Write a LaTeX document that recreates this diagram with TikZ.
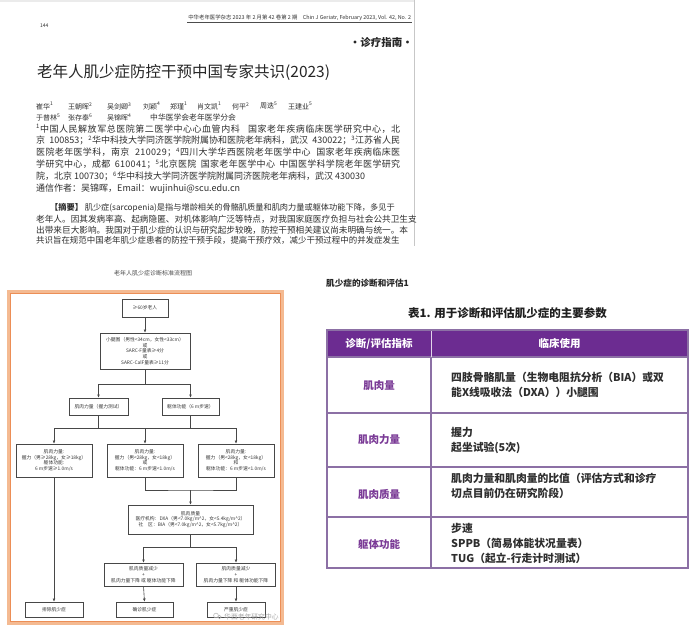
\documentclass[tikz,border=0pt]{standalone}
\usepackage{fontspec}
\setmainfont{Liberation Serif}
\newfontfamily\cjk{Noto Sans CJK SC}
\usetikzlibrary{arrows.meta}
\newcommand\fsz[2]{\fontsize{#1}{#2}\selectfont}
\newcommand\jline[2]{{\addfontfeature{LetterSpace=#1}\makebox[364pt][s]{#2}}}
\definecolor{tpurple}{RGB}{108,44,145}
\definecolor{tlabel}{RGB}{122,58,150}
\definecolor{tgrid}{RGB}{140,112,165}
\definecolor{oframe}{RGB}{244,186,146}
\definecolor{oline}{RGB}{236,142,86}
\tikzset{
  pg/.style={anchor=west, inner sep=0, text=black!82, font=\cjk\fsz{9}{10}},
  ab/.style={anchor=west, inner sep=0, text=black!82, font=\cjk\fsz{8.65}{10}},
  au/.style={anchor=west, inner sep=0, text=black!82, font=\cjk\fsz{7}{8}},
  fbox/.style={draw=black!72, line width=0.6pt, inner sep=0, align=center, text=black!78, font=\cjk\fsz{4.8}{5.8}},
  arr/.style={-{Latex[length=3.2pt,width=2.8pt]}, line width=0.6pt, draw=black!72},
  ln/.style={line width=0.6pt, draw=black!72},
  hdrtxt/.style={inner sep=0, text=white, font=\cjk\bfseries\fsz{10.5}{12}},
  lbl/.style={inner sep=0, text=tlabel, font=\cjk\bfseries\fsz{10.5}{12}},
  body/.style={anchor=west, align=left, inner sep=0, text=black!82, font=\cjk\bfseries\fsz{10.8}{15}},
}
\begin{document}
\begin{tikzpicture}[x=1pt,y=-1pt]
\useasboundingbox[fill=white] (0,0) rectangle (697,633);

% ---------------- journal page ----------------
\fill[black!8] (0,0) rectangle (415,2);
\draw[black!22, line width=0.8pt] (414.5,0) -- (414.5,246);
\node[au, font=\cjk\fsz{5}{6}] (pgno) at (40,26) {144};
\node[anchor=east, inner sep=0.8pt, text=black!80, font=\cjk\fsz{5.4}{6}] (hdr) at (412,18) {中华老年医学杂志 2023 年 2 月第 42 卷第 2 期\quad Chin J Geriatr, February 2023, Vol. 42, No. 2};
\draw[black!70, line width=0.4pt] (hdr.south west) -- (hdr.south east);
\node[anchor=east, inner sep=0, text=black!85, font=\cjk\bfseries\fsz{10.5}{12}] (sec) at (413,42) {·诊疗指南·};
\node[anchor=west, inner sep=0, text=black!85, font=\cjk\fsz{15.5}{17}] (ttl) at (37,72) {老年人肌少症防控干预中国专家共识(2023)};

\node[au] (a1) at (36,106) {崔华\textsuperscript{1}};
\node[au] (a2) at (68,106) {王朝晖\textsuperscript{2}};
\node[au] (a3) at (107,106) {吴剑卿\textsuperscript{3}};
\node[au] (a4) at (143,106) {刘颖\textsuperscript{4}};
\node[au] (a5) at (170,106) {郑瑾\textsuperscript{1}};
\node[au] (a6) at (197,106) {肖文凯\textsuperscript{1}};
\node[au] (a7) at (232,106) {何平\textsuperscript{2}};
\node[au] (a8) at (260,106) {周迭\textsuperscript{5}};
\node[au] (a9) at (288,106) {王建业\textsuperscript{5}};
\node[au] (b1) at (36,117.5) {于普林\textsuperscript{5}};
\node[au] (b2) at (68,117.5) {张存泰\textsuperscript{6}};
\node[au] (b3) at (107,117.5) {吴锦晖\textsuperscript{4}};
\node[au, font=\cjk\fsz{7.8}{8}] (b4) at (150,117.5) {中华医学会老年医学分会};

\node[pg] (f1) at (36,128.5) {\jline{6}{\textsuperscript{1}中国人民解放军总医院第二医学中心心血管内科 国家老年疾病临床医学研究中心，北}};
\node[pg] (f2) at (36,140.5) {\jline{0}{京 100853；\textsuperscript{2}华中科技大学同济医学院附属协和医院老年病科，武汉 430022；\textsuperscript{3}江苏省人民}};
\node[pg] (f3) at (36,152.5) {\jline{4}{医院老年医学科，南京 210029；\textsuperscript{4}四川大学华西医院老年医学中心 国家老年疾病临床医}};
\node[pg] (f4) at (36,164.5) {\jline{3.5}{学研究中心，成都 610041；\textsuperscript{5}北京医院 国家老年医学中心 中国医学科学院老年医学研究}};
\node[pg] (f5) at (36,176.5) {院，北京 100730；\textsuperscript{6}华中科技大学同济医学院附属同济医院老年病科，武汉 430030};
\node[pg] (f6) at (36,188.5) {通信作者：吴锦晖，Email：wujinhui@scu.edu.cn};

\node[ab, font=\cjk\fsz{8.2}{10}] (s1) at (50,208) {\textbf{【摘要】}\ 肌少症(sarcopenia)是指与增龄相关的骨骼肌质量和肌肉力量或躯体功能下降，多见于};
\node[ab] (s2) at (36,219) {老年人。因其发病率高、起病隐匿、对机体影响广泛等特点，对我国家庭医疗负担与社会公共卫生支};
\node[ab] (s3) at (36,230) {出带来巨大影响。我国对于肌少症的认识与研究起步较晚，防控干预相关建议尚未明确与统一。本};
\begin{scope}
\clip (0,235) rectangle (414,244.5);
\node[ab, font=\cjk\fsz{8.45}{10}] (s4) at (36,240.5) {共识旨在规范中国老年肌少症患者的防控干预手段，提高干预疗效，减少干预过程中的并发症发生};
\end{scope}

% ---------------- flowchart ----------------
\node[inner sep=0, text=black!70, font=\cjk\fsz{6}{7}] (fct) at (153,273) {老年人肌少症诊断标准流程图};
\draw[oframe, line width=3.5pt] (8.5,291.5) rectangle (282.5,623);
\draw[oline, line width=0.5pt] (10.5,293.5) rectangle (280.5,621);

\node[fbox, minimum width=46pt, minimum height=18pt] (n1) at (145,308) {≥60岁老人};
\node[fbox, minimum width=90pt, minimum height=36pt] (n2) at (145,351) {小腿围（男性<34cm，女性<33cm）\\或\\SARC-F量表≥4分\\或\\SARC-CalF量表≥11分};
\node[fbox, minimum width=59pt, minimum height=17pt] (n3) at (98.5,406.5) {肌肉力量（握力测试）};
\node[fbox, minimum width=57pt, minimum height=17pt] (n4) at (190.5,406.5) {躯体功能（6 m步速）};
\node[fbox, minimum width=76pt, minimum height=33pt] (nA) at (54,460.5) {肌肉力量:\\握力（男≥28kg，女≥18kg）\\躯体功能:\\6 m步速≥1.0m/s};
\node[fbox, minimum width=76pt, minimum height=33pt] (nB) at (145,460.5) {肌肉力量:\\握力（男<28kg，女<18kg）\\或\\躯体功能：6 m步速<1.0m/s};
\node[fbox, minimum width=76pt, minimum height=33pt] (nC) at (236,460.5) {肌肉力量:\\握力（男<28kg，女<18kg）\\和\\躯体功能：6 m步速<1.0m/s};
\node[fbox, minimum width=125pt, minimum height=29pt] (nD) at (190.5,519.5) {肌肉质量\\医疗机构：DXA（男<7.0kg/m\textasciicircum 2，女<5.4kg/m\textasciicircum 2）\\社\quad 区：BIA（男<7.0kg/m\textasciicircum 2，女<5.7kg/m\textasciicircum 2）};
\node[fbox, minimum width=79pt, minimum height=23pt] (nE) at (143.5,574.5) {肌肉质量减少\\+\\肌肉力量下降\ 或\ 躯体功能下降};
\node[fbox, minimum width=79pt, minimum height=23pt] (nF) at (236,574.5) {肌肉质量减少\\+\\肌肉力量下降\ 和\ 躯体功能下降};
\node[fbox, minimum width=58pt, minimum height=15pt] (nG) at (54,609.5) {排除肌少症};
\node[fbox, minimum width=57pt, minimum height=15pt] (nH) at (144.5,609.5) {确诊肌少症};
\node[fbox, minimum width=58pt, minimum height=15pt] (nI) at (236,609.5) {严重肌少症};

\draw[arr] (n1.south) -- (n2.north);
\draw[arr] (n2.south) -- ++(0,15) -| (n3.north);
\draw[arr] (n2.south) -- ++(0,15) -| (n4.north);
\coordinate (j2) at (145,428);
\draw[ln] (n3.south) -- (n3.south |- j2);
\draw[ln] (n4.south) -- (n4.south |- j2);
\draw[arr] (j2) -| (nA.north);
\draw[arr] (j2) -| (nC.north);
\draw[arr] (j2) -- (nB.north);
\coordinate (j3) at (190.5,490);
\draw[ln] (nB.south) |- (j3) -| (nC.south);
\draw[arr] (j3) -- (nD.north);
\draw[arr] (nD.south) -- ++(0,13) -| (nE.north);
\draw[arr] (nD.south) -- ++(0,13) -| (nF.north);
\draw[arr] (nA.south) -- (nG.north);
\draw[arr] (nE.south) -- (nH.north);
\draw[arr] (nF.south) -- (nI.north);

\node[anchor=west, inner sep=0, text=black!35, font=\cjk\fsz{6.8}{7}] (wm) at (224,616.5) {华西老年研究中心};
\draw[black!30, line width=0.5pt] (216,615.5) circle (2.4pt);
\draw[black!30, line width=0.5pt] (219.5,617) circle (1.8pt);

% ---------------- table ----------------
\node[anchor=west, inner sep=0, text=black!85, font=\cjk\bfseries\fsz{8.6}{10}] (tsup) at (326,283) {肌少症的诊断和评估1};
\node[inner sep=0, text=black!88, font=\cjk\bfseries\fsz{11.5}{13}] (ttab) at (507.5,313) {表1. 用于诊断和评估肌少症的主要参数};

\fill[tpurple] (327,330) rectangle (688,357);
\draw[tgrid, line width=1.1pt] (327,357) -- (688,357);
\draw[tgrid, line width=1.1pt] (327,413) -- (688,413);
\draw[tgrid, line width=1.1pt] (327,467) -- (688,467);
\draw[tgrid, line width=1.1pt] (327,517) -- (688,517);
\draw[tgrid, line width=1.1pt] (431,357) -- (431,568);
\draw[white!80!tpurple, line width=0.8pt] (431,330) -- (431,357);
\draw[tgrid, line width=1.1pt] (327,330) rectangle (688,568);

\node[hdrtxt] (h1) at (379,343.5) {诊断/评估指标};
\node[hdrtxt] (h2) at (559.5,343.5) {临床使用};
\node[lbl] (l1) at (379,386) {肌肉量};
\node[lbl] (l2) at (379,440) {肌肉力量};
\node[lbl] (l3) at (379,494) {肌肉质量};
\node[lbl] (l4) at (379,544) {躯体功能};
\node[body] (c1) at (451,384.5) {四肢骨骼肌量（生物电阻抗分析（BIA）或双\\能X线吸收法（DXA））小腿围};
\node[body] (c2) at (451,440) {握力\\起坐试验(5次)};
\node[body] (c3) at (451,485.5) {肌肉力量和肌肉量的比值（评估方式和诊疗\\切点目前仍在研究阶段）};
\node[body] (c4) at (451,543) {步速\\SPPB（简易体能状况量表）\\TUG（起立-行走计时测试）};
\end{tikzpicture}
\end{document}
